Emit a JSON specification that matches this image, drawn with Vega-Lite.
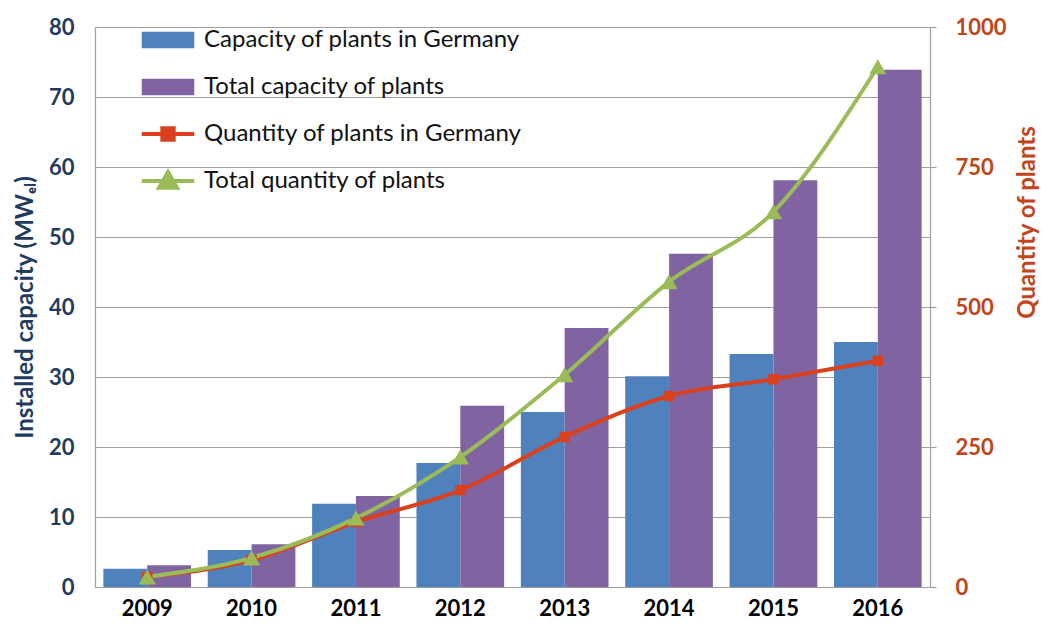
{
  "$schema": "https://vega.github.io/schema/vega-lite/v6.json",
  "autosize": {"type": "none"},
  "width": 835,
  "height": 560,
  "padding": {"left": 95, "top": 27, "right": 113, "bottom": 43},
  "background": "white",
  "config": {
    "view": {"stroke": null},
    "font": "Lato",
    "axis": {"labelFont": "Lato", "titleFont": "Lato"},
    "legend": {"labelFont": "Lato"}
  },
  "datasets": {
    "cap": [
      {"year": "2009", "series": "Capacity of plants in Germany", "capacity": 2.6},
      {"year": "2009", "series": "Total capacity of plants", "capacity": 3.1},
      {"year": "2010", "series": "Capacity of plants in Germany", "capacity": 5.3},
      {"year": "2010", "series": "Total capacity of plants", "capacity": 6.1},
      {"year": "2011", "series": "Capacity of plants in Germany", "capacity": 11.9},
      {"year": "2011", "series": "Total capacity of plants", "capacity": 13.0},
      {"year": "2012", "series": "Capacity of plants in Germany", "capacity": 17.7},
      {"year": "2012", "series": "Total capacity of plants", "capacity": 25.9},
      {"year": "2013", "series": "Capacity of plants in Germany", "capacity": 25.0},
      {"year": "2013", "series": "Total capacity of plants", "capacity": 37.0},
      {"year": "2014", "series": "Capacity of plants in Germany", "capacity": 30.1},
      {"year": "2014", "series": "Total capacity of plants", "capacity": 47.6},
      {"year": "2015", "series": "Capacity of plants in Germany", "capacity": 33.3},
      {"year": "2015", "series": "Total capacity of plants", "capacity": 58.1},
      {"year": "2016", "series": "Capacity of plants in Germany", "capacity": 35.0},
      {"year": "2016", "series": "Total capacity of plants", "capacity": 73.9}
    ],
    "qty": [
      {"year": "2009", "series": "Quantity of plants in Germany", "count": 18},
      {"year": "2010", "series": "Quantity of plants in Germany", "count": 48},
      {"year": "2011", "series": "Quantity of plants in Germany", "count": 116},
      {"year": "2012", "series": "Quantity of plants in Germany", "count": 173},
      {"year": "2013", "series": "Quantity of plants in Germany", "count": 268},
      {"year": "2014", "series": "Quantity of plants in Germany", "count": 341},
      {"year": "2015", "series": "Quantity of plants in Germany", "count": 371},
      {"year": "2016", "series": "Quantity of plants in Germany", "count": 404},
      {"year": "2009", "series": "Total quantity of plants", "count": 18},
      {"year": "2010", "series": "Total quantity of plants", "count": 52},
      {"year": "2011", "series": "Total quantity of plants", "count": 123},
      {"year": "2012", "series": "Total quantity of plants", "count": 232},
      {"year": "2013", "series": "Total quantity of plants", "count": 379},
      {"year": "2014", "series": "Total quantity of plants", "count": 545},
      {"year": "2015", "series": "Total quantity of plants", "count": 670},
      {"year": "2016", "series": "Total quantity of plants", "count": 929}
    ]
  },
  "encoding": {
    "x": {
      "field": "year", "type": "nominal",
      "scale": {"paddingInner": 0.16, "paddingOuter": 0.08},
      "axis": {
        "title": null, "labelAngle": 0, "domain": false, "ticks": false,
        "labelFontSize": 22, "labelFontWeight": "bold", "labelColor": "#000000",
        "labelPadding": 11
      }
    },
    "color": {
      "field": "series", "type": "nominal",
      "scale": {
        "domain": ["Capacity of plants in Germany", "Total capacity of plants", "Quantity of plants in Germany", "Total quantity of plants"],
        "range": ["#4F81BD", "#8064A2", "#D9411E", "#9BBB59"]
      },
      "legend": {
        "title": null,
        "orient": "none",
        "legendX": 61,
        "legendY": 1,
        "padding": 0,
        "gridAlign": "all",
        "symbolSize": 900,
        "rowPadding": 15,
        "labelOffset": 24,
        "labelFontSize": 24,
        "labelColor": "#111111",
        "labelLimit": 500,
        "encode": {
          "symbols": {
            "update": {
              "shape": {"signal": "datum.value == 'Capacity of plants in Germany' || datum.value == 'Total capacity of plants' ? 'M-1.75,-0.55H1.75V0.55H-1.75Z' : datum.value == 'Quantity of plants in Germany' ? 'M-1.75,0H1.75M-0.38,-0.38H0.38V0.38H-0.38Z' : 'M-1.75,0H1.75M0,-0.6L0.6,0.45H-0.6Z'"},
              "fill": {"scale": "color", "field": "value"},
              "stroke": {"scale": "color", "field": "value"},
              "strokeWidth": {"signal": "datum.value == 'Capacity of plants in Germany' || datum.value == 'Total capacity of plants' ? 0 : 4"},
              "opacity": {"value": 1},
              "fillOpacity": {"value": 1}
            }
          }
        }
      }
    }
  },
  "layer": [
    {
      "data": {"name": "cap"},
      "mark": {"type": "bar"},
      "encoding": {
        "xOffset": {
          "field": "series", "type": "nominal",
          "scale": {"domain": ["Capacity of plants in Germany", "Total capacity of plants"], "paddingInner": 0, "paddingOuter": 0}
        },
        "y": {
          "field": "capacity", "type": "quantitative",
          "scale": {"domain": [0, 80], "nice": false},
          "axis": {
            "title": "Installed capacity (MWₑₗ)",
            "values": [0, 10, 20, 30, 40, 50, 60, 70, 80],
            "grid": true, "gridColor": "#9E9E9E", "gridWidth": 1.2,
            "domain": true, "domainColor": "#9E9E9E", "domainWidth": 1.2,
            "ticks": false,
            "labelFontSize": 22, "labelFontWeight": "bold", "labelColor": "#1F3C5F",
            "labelPadding": 21,
            "titleFontSize": 24, "titleFontWeight": "bold", "titleColor": "#1F3C5F",
            "titlePadding": 11
          }
        }
      }
    },
    {
      "data": {"name": "qty"},
      "encoding": {
        "y": {
          "field": "count", "type": "quantitative",
          "scale": {"domain": [0, 1000], "nice": false},
          "axis": {
            "orient": "right",
            "title": "Quantity of plants",
            "format": "d",
            "values": [0, 250, 500, 750, 1000],
            "grid": false,
            "domain": true, "domainColor": "#9E9E9E", "domainWidth": 1.2,
            "ticks": true, "tickColor": "#9E9E9E", "tickSize": 6, "tickWidth": 1.2,
            "labelFontSize": 22, "labelFontWeight": "bold", "labelColor": "#C0461A",
            "labelPadding": 19,
            "titleFontSize": 24, "titleFontWeight": "bold", "titleColor": "#C0461A",
            "titleAngle": 270,
            "titleX": 97,
            "titleY": 195,
            "titleAlign": "center",
            "titleBaseline": "middle"
          }
        }
      },
      "layer": [
        {
          "mark": {"type": "line", "strokeWidth": 4, "interpolate": "monotone"}
        },
        {
          "mark": {"type": "point", "filled": true, "opacity": 1},
          "encoding": {
            "shape": {
              "field": "series", "type": "nominal",
              "scale": {"domain": ["Quantity of plants in Germany", "Total quantity of plants"], "range": ["square", "triangle-up"]},
              "legend": null
            },
            "size": {
              "field": "series", "type": "nominal",
              "scale": {"domain": ["Quantity of plants in Germany", "Total quantity of plants"], "range": [110, 300]},
              "legend": null
            }
          }
        }
      ]
    }
  ],
  "resolve": {"scale": {"y": "independent"}}
}
